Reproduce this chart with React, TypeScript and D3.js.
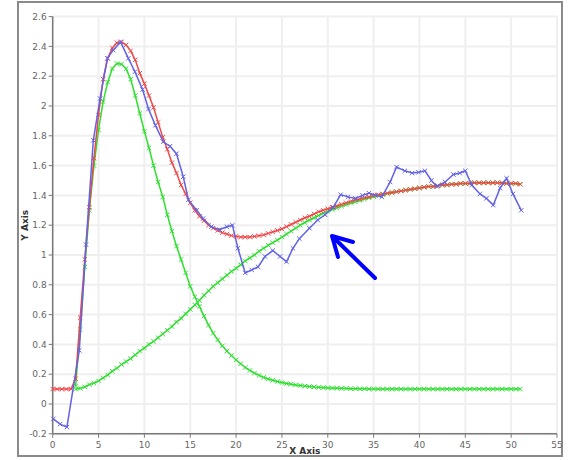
import React from "react";
import * as d3 from "d3";

// Sampling grid of the fitted curves
const CURVE_START_RED = 0;
const CURVE_START_GREEN = 2.5;
const CURVE_END = 51;
const CURVE_STEP = 0.5;

const redFit = [
  0.1, 0.1, 0.1, 0.1, 0.1,
  0.17, 0.58, 0.97, 1.32, 1.65,
  1.94, 2.18, 2.32, 2.39, 2.425,
  2.43, 2.41, 2.37, 2.31, 2.22,
  2.15, 2.07, 1.99, 1.89, 1.79,
  1.71, 1.62, 1.55, 1.47, 1.41,
  1.35, 1.3, 1.26, 1.23, 1.2,
  1.18, 1.165, 1.15, 1.14, 1.13,
  1.125, 1.12, 1.12, 1.12, 1.125,
  1.13, 1.135, 1.145, 1.155, 1.165,
  1.175, 1.19, 1.205, 1.22, 1.235,
  1.25, 1.26, 1.275, 1.29, 1.3,
  1.31, 1.32, 1.33, 1.34, 1.35,
  1.36, 1.37, 1.375, 1.385, 1.39,
  1.4, 1.405, 1.41, 1.415, 1.42,
  1.425, 1.43, 1.435, 1.44, 1.445,
  1.45, 1.455, 1.46, 1.46, 1.465,
  1.47, 1.47, 1.475, 1.475, 1.48,
  1.48, 1.48, 1.485, 1.485, 1.485,
  1.485, 1.485, 1.485, 1.485, 1.48,
  1.48, 1.48, 1.475,
];

const greenPeak = [
  0.12, 0.5, 0.92, 1.3, 1.6,
  1.84, 2.03, 2.16, 2.25, 2.285,
  2.28, 2.25, 2.18, 2.07, 1.95,
  1.83, 1.72, 1.6, 1.49, 1.39,
  1.27, 1.16, 1.06, 0.97, 0.88,
  0.79, 0.72, 0.655, 0.59, 0.53,
  0.475, 0.43, 0.39, 0.355, 0.325,
  0.295, 0.27, 0.245, 0.225, 0.207,
  0.192, 0.179, 0.168, 0.159, 0.151,
  0.144, 0.138, 0.133, 0.128, 0.124,
  0.12, 0.117, 0.114, 0.112, 0.11,
  0.108, 0.107, 0.106, 0.105, 0.104,
  0.103, 0.103, 0.102, 0.102, 0.101,
  0.101, 0.101, 0.1, 0.1, 0.1,
  0.1, 0.1, 0.1, 0.1, 0.1,
  0.1, 0.1, 0.1, 0.1, 0.1,
  0.1, 0.1, 0.1, 0.1, 0.1,
  0.1, 0.1, 0.1, 0.1, 0.1,
  0.1, 0.1, 0.1, 0.1, 0.1,
  0.1, 0.1, 0.1,
];

const greenRise = [
  0.1, 0.105, 0.115, 0.13, 0.14,
  0.155, 0.175, 0.195, 0.22, 0.24,
  0.265, 0.285, 0.305, 0.33, 0.355,
  0.375, 0.4, 0.42, 0.445, 0.47,
  0.495, 0.52, 0.55, 0.575, 0.605,
  0.635, 0.665, 0.695, 0.73, 0.76,
  0.79, 0.815, 0.84, 0.865, 0.89,
  0.91, 0.935, 0.96, 0.98, 1.0,
  1.025, 1.045, 1.065, 1.083, 1.1,
  1.12, 1.14, 1.16, 1.18, 1.2,
  1.218, 1.235, 1.25, 1.265, 1.28,
  1.293, 1.305, 1.317, 1.328, 1.338,
  1.348, 1.357, 1.366, 1.375, 1.384,
  1.392, 1.4, 1.406, 1.412, 1.418,
  1.424, 1.43, 1.435, 1.44, 1.445,
  1.45, 1.455, 1.46, 1.46, 1.465,
  1.47, 1.47, 1.475, 1.475, 1.48,
  1.48, 1.48, 1.485, 1.485, 1.485,
  1.485, 1.485, 1.485, 1.485, 1.48,
  1.48, 1.48, 1.475,
];

const dataX = [
  0.07, 0.8, 1.55, 2.9, 3.63, 4.43, 5.16, 5.96, 6.6, 7.4,
  8.25, 8.97, 9.8, 10.45, 11.2, 12.06, 12.8, 13.5, 14.24, 14.8,
  15.7, 16.4, 17.3, 18.2, 19.0, 19.6, 20.2, 21.0, 21.7, 22.4,
  23.15, 24.0, 24.8, 25.5, 26.2, 26.9, 28.0, 28.9, 29.7, 30.6,
  31.4, 32.2, 33.0, 33.8, 34.5, 35.2, 35.9, 36.8, 37.5, 38.4,
  39.2, 39.9, 40.6, 41.3, 41.9, 42.8, 43.7, 44.4, 45.0, 45.7,
  46.6, 47.3, 48.05, 48.8, 49.5, 50.2, 51.1,
];
const dataY = [
  -0.1, -0.135, -0.155, 0.36, 1.07, 1.77, 2.05, 2.32, 2.375, 2.43,
  2.32, 2.23, 2.11, 1.98, 1.87, 1.76, 1.73, 1.68, 1.525, 1.37,
  1.3, 1.245, 1.19, 1.17, 1.19, 1.2, 1.045, 0.88, 0.9, 0.92,
  0.99, 1.03, 0.99, 0.955, 1.045, 1.11, 1.18, 1.235, 1.27, 1.32,
  1.405, 1.39, 1.38, 1.4, 1.415, 1.4, 1.39, 1.49, 1.59, 1.565,
  1.55, 1.555, 1.565, 1.5, 1.46, 1.49, 1.54, 1.55, 1.565, 1.47,
  1.41, 1.38, 1.335, 1.45, 1.515, 1.41, 1.3,
];

const xTicks = [0, 5, 10, 15, 20, 25, 30, 35, 40, 45, 50, 55];
const yTicks = [-0.2, 0, 0.2, 0.4, 0.6, 0.8, 1, 1.2, 1.4, 1.6, 1.8, 2, 2.2, 2.4, 2.6];

const W = 571;
const H = 460;

type P = [number, number];

function Series({ pts, color, x, y }: { pts: P[]; color: string; x: any; y: any }) {
  const line = d3.line<P>().x((d) => x(d[0])).y((d) => y(d[1]));
  const s = 2.2;
  return (
    <g>
      <path d={line(pts) || ""} fill="none" stroke={color} strokeWidth={1.5} />
      {pts.map((d, i) => {
        const cx = x(d[0]);
        const cy = y(d[1]);
        return (
          <path
            key={i}
            d={`M${cx - s},${cy - s}L${cx + s},${cy + s}M${cx - s},${cy + s}L${cx + s},${cy - s}`}
            stroke={color}
            strokeWidth={1}
            fill="none"
          />
        );
      })}
    </g>
  );
}

export default function App() {
  const x = d3.scaleLinear().domain([0, 55]).range([52.7, 557]);
  const y = d3.scaleLinear().domain([-0.2, 2.6]).range([433.8, 16.6]);

  const redX = d3.range(CURVE_START_RED, CURVE_END + 0.001, CURVE_STEP);
  const greenX = d3.range(CURVE_START_GREEN, CURVE_END + 0.001, CURVE_STEP);

  const redPts: P[] = redFit.map((v, i) => [redX[i], v]);
  const g1Pts: P[] = greenPeak.map((v, i) => [greenX[i], v]);
  const g2Pts: P[] = greenRise.map((v, i) => [greenX[i], v]);
  const bluePts: P[] = dataY.map((v, i) => [dataX[i], v]);

  const x0 = x(0);
  const x1 = x(55);
  const yb = y(-0.2);
  const yt = y(2.6);
  const font = "DejaVu Sans, Verdana, sans-serif";

  return (
    <svg
      width={W}
      height={H}
      style={{ position: "absolute", left: 0, top: 0, background: "#fff" }}
    >
      <rect x={0} y={0} width={W} height={H} fill="#fff" />
      <rect x={18} y={2} width={544} height={454} fill="#fff" stroke="#8a8a8a" strokeWidth={2} />
      {/* grid */}
      {xTicks.map((t) => (
        <line key={"gx" + t} x1={x(t)} x2={x(t)} y1={yt} y2={yb} stroke="#efefef" strokeWidth={2} />
      ))}
      {yTicks.map((t) => (
        <line key={"gy" + t} x1={x0} x2={x1} y1={y(t)} y2={y(t)} stroke="#efefef" strokeWidth={2} />
      ))}
      {/* axes */}
      <line x1={x0} x2={x0} y1={yt} y2={yb} stroke="#7a7a7a" strokeWidth={1.5} />
      <line x1={x0} x2={x1} y1={yb} y2={yb} stroke="#7a7a7a" strokeWidth={1.5} />
      {yTicks.map((t) => (
        <g key={"ty" + t}>
          <line x1={x0 - 4} x2={x0} y1={y(t)} y2={y(t)} stroke="#7a7a7a" strokeWidth={1} />
          <text
            x={x0 - 6}
            y={y(t)}
            dy="0.35em"
            textAnchor="end"
            fontSize={9}
            fontFamily={font}
            fill="#666"
          >
            {String(t)}
          </text>
        </g>
      ))}
      {xTicks.map((t) => (
        <g key={"tx" + t}>
          <line x1={x(t)} x2={x(t)} y1={yb} y2={yb + 4} stroke="#7a7a7a" strokeWidth={1} />
          <text
            x={x(t)}
            y={yb + 14}
            textAnchor="middle"
            fontSize={9}
            fontFamily={font}
            fill="#666"
          >
            {String(t)}
          </text>
        </g>
      ))}
      <text
        x={(x0 + x1) / 2}
        y={454}
        textAnchor="middle"
        fontSize={9}
        fontWeight="bold"
        fontFamily={font}
        fill="#333"
      >
        X Axis
      </text>
      <text
        transform={`translate(28,${(yt + yb) / 2}) rotate(-90)`}
        textAnchor="middle"
        fontSize={9}
        fontWeight="bold"
        fontFamily={font}
        fill="#333"
      >
        Y Axis
      </text>
      {/* series */}
      <Series pts={g2Pts} color="#2ee02e" x={x} y={y} />
      <Series pts={g1Pts} color="#2ee02e" x={x} y={y} />
      <Series pts={redPts} color="#f04848" x={x} y={y} />
      <Series pts={bluePts} color="#6262e6" x={x} y={y} />
      {/* arrow */}
      <g stroke="#0000ff" strokeWidth={4} fill="none" strokeLinecap="round" strokeLinejoin="round">
        <line x1={375} y1={278} x2={334} y2={238} />
        <polyline points="338,257 332,236 353,242" />
      </g>
    </svg>
  );
}
